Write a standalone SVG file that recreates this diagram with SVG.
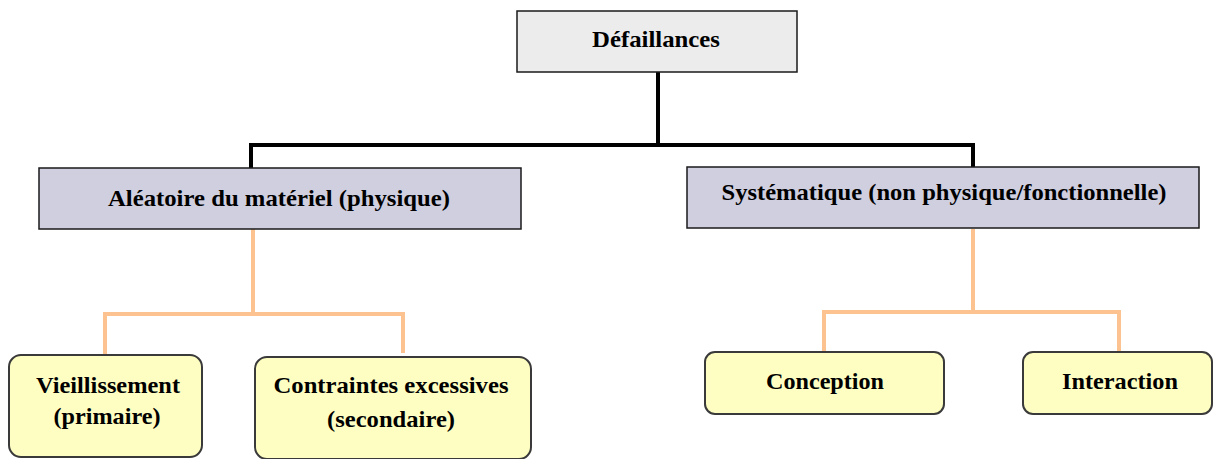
<svg xmlns="http://www.w3.org/2000/svg" width="1215" height="459" viewBox="0 0 1215 459">
  <style>
    .root { fill: #ececec; stroke: #1a1a1a; stroke-width: 1.5; }
    .mid { fill: #cfcfe0; stroke: #1a1a1a; stroke-width: 1.5; }
    .leaf { fill: #fefec2; stroke: #3a3a3a; stroke-width: 2; }
    .lbl { font-family: "Liberation Serif", "Times New Roman", serif; font-weight: bold; font-size: 23px; fill: #000; text-anchor: middle; }
    .black { fill: none; stroke: #000; stroke-width: 4; }
    .peach { fill: none; stroke: #fcc290; stroke-width: 4; }
  </style>
  <rect width="1215" height="459" fill="#fff"/>

  <g id="connectors">
    <path class="black" d="M658 72 V145 M251 168 V145 H973 V168"/>
    <path class="peach" d="M253 229 V314 M105 355 V314 H403 V353"/>
    <path class="peach" d="M973 229 V312 M824 352 V312 H1119 V352"/>
  </g>

  <g id="defaillances">
    <rect class="root" x="517" y="11" width="280" height="61"/>
    <text class="lbl" x="656" y="47" textLength="128" lengthAdjust="spacingAndGlyphs">Défaillances</text>
  </g>

  <g id="aleatoire">
    <rect class="mid" x="39" y="168" width="482" height="61"/>
    <text class="lbl" x="279" y="206" textLength="342" lengthAdjust="spacingAndGlyphs">Aléatoire du matériel (physique)</text>
  </g>

  <g id="systematique">
    <rect class="mid" x="687" y="167" width="512" height="61"/>
    <text class="lbl" x="944" y="200" textLength="445" lengthAdjust="spacingAndGlyphs">Systématique (non physique/fonctionnelle)</text>
  </g>

  <g id="vieillissement">
    <rect class="leaf" x="9" y="355" width="193" height="102" rx="12"/>
    <text class="lbl" x="108" y="393" textLength="144" lengthAdjust="spacingAndGlyphs">Vieillissement</text>
    <text class="lbl" x="107" y="424" textLength="107" lengthAdjust="spacingAndGlyphs">(primaire)</text>
  </g>

  <g id="contraintes">
    <rect class="leaf" x="255" y="357" width="276" height="102" rx="12"/>
    <text class="lbl" x="391" y="393" textLength="235" lengthAdjust="spacingAndGlyphs">Contraintes excessives</text>
    <text class="lbl" x="391" y="427" textLength="128" lengthAdjust="spacingAndGlyphs">(secondaire)</text>
  </g>

  <g id="conception">
    <rect class="leaf" x="705" y="352" width="239" height="62" rx="10"/>
    <text class="lbl" x="825" y="389" textLength="118" lengthAdjust="spacingAndGlyphs">Conception</text>
  </g>

  <g id="interaction">
    <rect class="leaf" x="1023" y="352" width="189" height="62" rx="10"/>
    <text class="lbl" x="1120" y="389" textLength="116" lengthAdjust="spacingAndGlyphs">Interaction</text>
  </g>
</svg>
